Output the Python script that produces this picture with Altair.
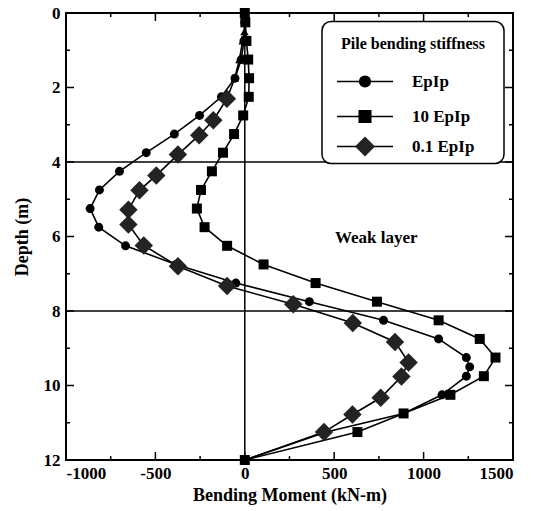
import altair as alt
import pandas as pd

FONT = "Liberation Serif"
W = H = 447

# Bending moment profiles along the pile (depth in m, moment in kN-m)
epip_depth = [0, 0.25, 0.75, 1.25, 1.75, 2.25, 2.75, 3.25, 3.75, 4.25, 4.75, 5.25,
              5.75, 6.25, 6.75, 7.25, 7.75, 8.25, 8.75, 9.25, 9.5, 9.75, 10.25,
              10.75, 11.25, 12]
epip_moment = [0, 0, -5, -20, -55, -131, -253, -394, -551, -701, -813, -865,
               -817, -667, -385, -50, 361, 776, 1084, 1239, 1258, 1239, 1103,
               888, 455, 0]

stiff_depth = [0, 0.25, 0.75, 1.25, 1.75, 2.25, 2.75, 3.25, 3.75, 4.25, 4.75,
               5.25, 5.75, 6.25, 6.75, 7.25, 7.75, 8.25, 8.75, 9.25, 9.75, 10.25,
               10.75, 11.25, 12]
stiff_moment = [0, 3, 9, 19, 24, 22, -9, -60, -122, -184, -245, -268, -225, -99,
                105, 396, 739, 1084, 1314, 1402, 1337, 1150, 888, 630, 0]

soft_depth = [0, 0.25, 0.5, 0.75, 1.25, 1.75, 2.3, 2.88, 3.28, 3.8, 4.36, 4.76,
              5.28, 5.68, 6.24, 6.8, 7.33, 7.82, 8.32, 8.83, 9.38, 9.76, 10.33,
              10.78, 11.25, 12]
soft_moment = [0, 0, -2, -12, -30, -56, -100, -176, -255, -374, -495, -589, -651,
               -651, -565, -374, -99, 271, 604, 840, 916, 876, 760, 602, 443, 0]

series_names = ["EpIp", "10 EpIp", "0.1 EpIp"]
legend_title = "Pile bending stiffness"
layer_label = "Weak layer"
layer_label_pos = (735, 6.05)
layer_bounds = [4, 8]

x_ticks = [-1000, -500, 0, 500, 1000, 1500]
y_ticks = [0, 2, 4, 6, 8, 10, 12]
x_major_inner = [-500, 0, 500, 1000]
x_minor_inner = [-750, -250, 250, 750, 1250]
y_major_inner = [2, 4, 6, 8, 10]
y_minor_inner = [1, 3, 5, 7, 9, 11]

frames = []
for name, d, m in [(series_names[0], epip_depth, epip_moment),
                   (series_names[1], stiff_depth, stiff_moment),
                   (series_names[2], soft_depth, soft_moment)]:
    frames.append(pd.DataFrame({"series": name, "depth": d, "moment": m}))
df = pd.concat(frames, ignore_index=True)

x_scale = alt.Scale(domain=[-1000, 1500], nice=False, zero=False)
y_scale = alt.Scale(domain=[0, 12], nice=False, reverse=True)

x_axis = alt.Axis(values=x_ticks, labelExpr="'' + datum.value", ticks=False,
                  domain=False, grid=False, labelFont=FONT, labelFontSize=17,
                  labelFontWeight="bold", labelColor="black", labelPadding=5,
                  title="Bending Moment (kN-m)", titleFont=FONT, titleFontSize=18,
                  titleFontWeight="bold", titleColor="black", titleY=35,
                  titleBaseline="middle")
y_axis = alt.Axis(values=y_ticks, labelExpr="'' + datum.value", ticks=False,
                  domain=False, grid=False, labelFont=FONT, labelFontSize=17,
                  labelFontWeight="bold", labelColor="black", labelPadding=6,
                  title="Depth (m)", titleFont=FONT, titleFontSize=18,
                  titleFontWeight="bold", titleColor="black", titleX=-44,
                  titleBaseline="middle")

X = alt.X("moment:Q", scale=x_scale, axis=x_axis)
Y = alt.Y("depth:Q", scale=y_scale, axis=y_axis)

base = alt.Chart(df)

lines = base.mark_line(color="black", strokeWidth=1.6).encode(
    x=X, y=Y, detail="series:N", order="depth:Q")

circles = base.transform_filter(alt.datum.series == series_names[0]).mark_point(
    shape="circle", filled=True, color="black", opacity=1, size=80).encode(x=X, y=Y)
squares = base.transform_filter(alt.datum.series == series_names[1]).mark_point(
    shape="square", filled=True, color="black", opacity=1, size=100).encode(x=X, y=Y)
diamonds = base.transform_filter(
    (alt.datum.series == series_names[2]) & (alt.datum.depth > 2) & (alt.datum.depth < 12)
).mark_point(shape="diamond", filled=True, color="#232323", opacity=1,
             size=340).encode(x=X, y=Y)
triangles = base.transform_filter(
    (alt.datum.series == series_names[2]) & ((alt.datum.depth < 2) | (alt.datum.depth == 12))
).mark_point(shape="triangle-up", filled=True, color="black", opacity=1,
             size=70).encode(x=X, y=Y)

# reference lines: zero moment and the weak layer boundaries
zero_rule = alt.Chart(pd.DataFrame({"moment": [0]})).mark_rule(
    color="black", strokeWidth=1.5).encode(x=X)
bound_rules = alt.Chart(pd.DataFrame({"depth": layer_bounds})).mark_rule(
    color="black", strokeWidth=1.5).encode(y=Y)

weak_text = alt.Chart(pd.DataFrame({"moment": [layer_label_pos[0]],
                                    "depth": [layer_label_pos[1]],
                                    "t": [layer_label]})).mark_text(
    font=FONT, fontSize=17, fontWeight="bold", color="black",
    align="center", baseline="middle").encode(x=X, y=Y, text="t:N")


# inward ticks on all four sides
def x_ticks_layer(vals, length):
    d = alt.Chart(pd.DataFrame({"moment": vals}))
    bottom = d.mark_rule(color="black", strokeWidth=1.5).encode(
        x=X, y=alt.value(H), y2=alt.value(H - length))
    top = d.mark_rule(color="black", strokeWidth=1.5).encode(
        x=X, y=alt.value(0), y2=alt.value(length))
    return [bottom, top]


def y_ticks_layer(vals, length):
    d = alt.Chart(pd.DataFrame({"depth": vals}))
    left = d.mark_rule(color="black", strokeWidth=1.5).encode(
        y=Y, x=alt.value(0), x2=alt.value(length))
    right = d.mark_rule(color="black", strokeWidth=1.5).encode(
        y=Y, x=alt.value(W), x2=alt.value(W - length))
    return [left, right]


tick_layers = (x_ticks_layer(x_major_inner, 8) + x_ticks_layer(x_minor_inner, 4)
               + y_ticks_layer(y_major_inner, 8) + y_ticks_layer(y_minor_inner, 4))

# legend box
one = alt.Chart(pd.DataFrame({"k": [0]}))
leg_box = one.mark_rect(fill="white", stroke="black", strokeWidth=1.5,
                        cornerRadius=9).encode(
    x=alt.value(256), x2=alt.value(438), y=alt.value(8.5), y2=alt.value(150.5))
leg_title = one.mark_text(font=FONT, fontSize=16, fontWeight="bold", color="black",
                          align="center", baseline="middle").encode(
    x=alt.value(347), y=alt.value(31), text=alt.value(legend_title))

legend_layers = [leg_box, leg_title]
leg_rows = [(series_names[0], "circle", 150, "black", 68.5),
            (series_names[1], "square", 170, "black", 103.5),
            (series_names[2], "diamond", 400, "#232323", 133.5)]
for label, shape, size, col, yy in leg_rows:
    legend_layers.append(one.mark_rule(color="black", strokeWidth=1.6).encode(
        x=alt.value(271), x2=alt.value(327), y=alt.value(yy)))
    legend_layers.append(one.mark_point(shape=shape, filled=True, color=col,
                                        opacity=1, size=size).encode(
        x=alt.value(299), y=alt.value(yy)))
    legend_layers.append(one.mark_text(font=FONT, fontSize=17, fontWeight="bold",
                                       color="black", align="left",
                                       baseline="middle").encode(
        x=alt.value(346), y=alt.value(yy), text=alt.value(label)))

chart = alt.layer(
    zero_rule, bound_rules, *tick_layers, lines, circles, squares, triangles,
    diamonds, weak_text, *legend_layers
).properties(
    width=W, height=H,
    autosize=alt.AutoSizeParams(type="none"),
    padding={"left": 66, "top": 13, "right": 28, "bottom": 51},
    background="white",
).configure_view(stroke="black", strokeWidth=2)

chart.save("out.html", embed_options={"renderer": "svg", "actions": False})
